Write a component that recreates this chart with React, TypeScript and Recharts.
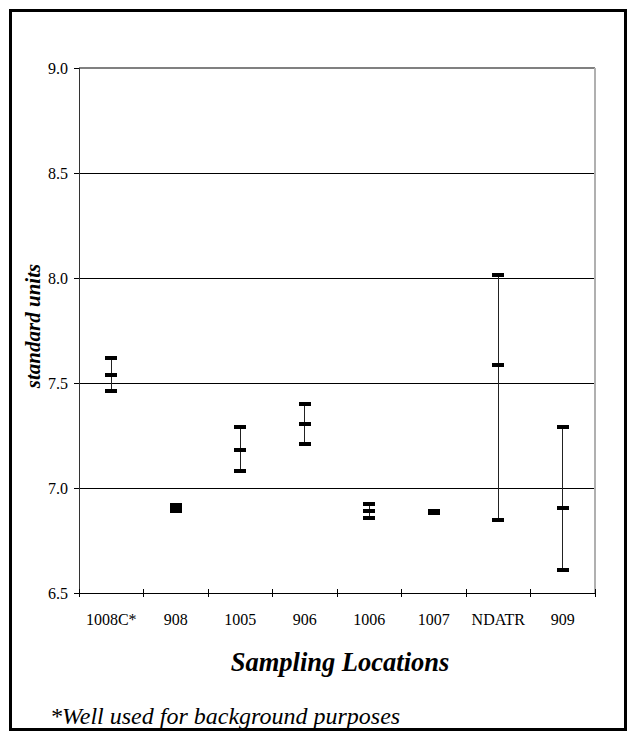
import React from 'react'
import { ComposedChart, Scatter, ErrorBar, XAxis, YAxis, CartesianGrid, ReferenceLine } from 'recharts'

const locations = ['1008C*', '908', '1005', '906', '1006', '1007', 'NDATR', '909']
const highs = [7.62, 6.92, 7.29, 7.4, 6.925, 6.89, 8.015, 7.29]
const means = [7.54, 6.905, 7.18, 7.305, 6.89, 6.885, 7.585, 6.905]
const lows = [7.46, 6.89, 7.08, 7.21, 6.855, 6.88, 6.85, 6.61]
const yTicks = [6.5, 7.0, 7.5, 8.0, 8.5, 9.0]

// each location sits in the middle of its slot on a 0..8 axis, so ticks can fall between them
const rows = locations.map((name, i) => ({
  name,
  x: i + 0.5,
  high: highs[i],
  mean: means[i],
  low: lows[i],
  err: [means[i] - lows[i], highs[i] - means[i]],
}))
const xTicks = Array.from({ length: 17 }, (_, i) => i / 2)

const font = "'Liberation Serif', 'DejaVu Serif', serif"

const Dash = (p: any) => <rect x={p.cx - 6} y={p.cy - 2} width={12} height={4} fill="#000" />

const XTick = ({ x, y, payload }: any) => {
  const v = payload.value
  if (Number.isInteger(v)) {
    return <line x1={x} x2={x} y1={y - 4} y2={y + 4} stroke="#000" strokeWidth={1} shapeRendering="crispEdges" />
  }
  return (
    <text x={x} y={y + 32} textAnchor="middle" style={{ fontSize: 16, fontFamily: font, fill: '#000' }}>
      {locations[Math.floor(v)]}
    </text>
  )
}

export default function App() {
  return (
    <div style={{ position: 'absolute', left: 0, top: 0, width: 629, height: 733, background: '#fff', fontFamily: font }}>
      <div style={{ position: 'absolute', left: 9, top: 9, width: 618, height: 722, border: '3px solid #000', boxSizing: 'border-box' }} />
      <ComposedChart width={629} height={733} data={rows} margin={{ top: 68, right: 34, left: 19, bottom: 100 }}
        style={{ fontFamily: font, shapeRendering: 'crispEdges' }}>
        <CartesianGrid vertical={false} stroke="#000" strokeWidth={1} />
        <XAxis dataKey="x" type="number" domain={[0, 8]} ticks={xTicks} interval={0} height={40}
          tickLine={false} tickSize={0} tickMargin={0} tick={<XTick />} axisLine={{ stroke: '#000' }} />
        <YAxis type="number" domain={[6.5, 9]} ticks={yTicks} width={60} tickSize={5} tickMargin={6}
          tickFormatter={(v: number) => v.toFixed(1)} axisLine={{ stroke: '#333' }} tickLine={{ stroke: '#000' }}
          tick={{ fontSize: 16, fontFamily: font, fill: '#000' }} />
        <ReferenceLine y={9} stroke="#808080" strokeWidth={2} />
        <ReferenceLine x={8} stroke="#b0b0b0" strokeWidth={2} />
        <Scatter dataKey="mean" shape={Dash} isAnimationActive={false}>
          <ErrorBar dataKey="err" direction="y" width={0} stroke="#222" strokeWidth={1} />
        </Scatter>
        <Scatter dataKey="high" shape={Dash} isAnimationActive={false} />
        <Scatter dataKey="low" shape={Dash} isAnimationActive={false} />
      </ComposedChart>
      <div style={{ position: 'absolute', left: 33, top: 326, transform: 'translate(-50%, -50%) rotate(-90deg)', whiteSpace: 'nowrap', fontSize: 21, fontWeight: 'bold', fontStyle: 'italic' }}>
        standard units
      </div>
      <div style={{ position: 'absolute', left: 340, top: 662, transform: 'translate(-50%, -50%)', whiteSpace: 'nowrap', fontSize: 26.5, fontWeight: 'bold', fontStyle: 'italic' }}>
        Sampling Locations
      </div>
      <div style={{ position: 'absolute', left: 50, top: 716, transform: 'translateY(-50%)', whiteSpace: 'nowrap', fontSize: 24, fontStyle: 'italic' }}>
        *Well used for background purposes
      </div>
    </div>
  )
}
